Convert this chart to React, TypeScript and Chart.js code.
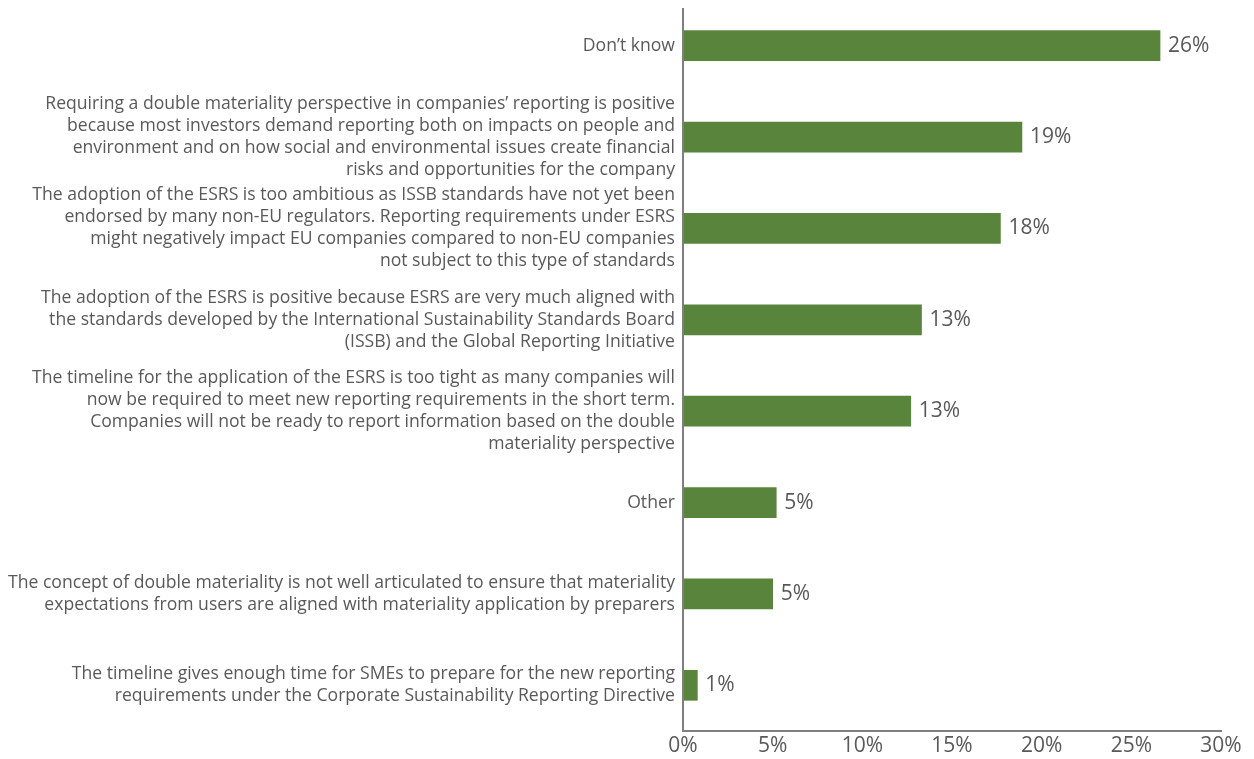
import React, { useEffect, useRef } from "react";
import { Chart, registerables } from "chart.js";

Chart.register(...registerables);

const categories: (string | string[])[] = [
  "Don’t know",
  [
    "Requiring a double materiality perspective in companies’ reporting is positive",
    "because most investors demand reporting both on impacts on people and",
    "environment and on how social and environmental issues create financial",
    "risks and opportunities for the company",
  ],
  [
    "The adoption of the ESRS is too ambitious as ISSB standards have not yet been",
    "endorsed by many non-EU regulators. Reporting requirements under ESRS",
    "might negatively impact EU companies compared to non-EU companies",
    "not subject to this type of standards",
  ],
  [
    "The adoption of the ESRS is positive because ESRS are very much aligned with",
    "the standards developed by the International Sustainability Standards Board",
    "(ISSB) and the Global Reporting Initiative",
  ],
  [
    "The timeline for the application of the ESRS is too tight as many companies will",
    "now be required to meet new reporting requirements in the short term.",
    "Companies will not be ready to report information based on the double",
    "materiality perspective",
  ],
  "Other",
  [
    "The concept of double materiality is not well articulated to ensure that materiality",
    "expectations from users are aligned with materiality application by preparers",
  ],
  [
    "The timeline gives enough time for SMEs to prepare for the new reporting",
    "requirements under the Corporate Sustainability Reporting Directive",
  ],
];

const values: number[] = [26.6, 18.9, 17.7, 13.3, 12.7, 5.2, 5.0, 0.8];
const valueLabels: string[] = ["26%", "19%", "18%", "13%", "13%", "5%", "5%", "1%"];

const FONT = "'Open Sans', Lato, sans-serif";
const TEXT = "#595959";
const BAR = "#58843C";
const AXIS = "#7F7F7F";

const valueLabelPlugin = {
  id: "valueLabels",
  afterDatasetsDraw(chart: any) {
    const ctx = chart.ctx;
    const meta = chart.getDatasetMeta(0);
    const area = chart.chartArea;
    ctx.save();
    ctx.strokeStyle = AXIS;
    ctx.lineWidth = 2;
    ctx.beginPath();
    ctx.moveTo(area.left, area.top + 8);
    ctx.lineTo(area.left, area.bottom);
    ctx.stroke();
    ctx.font = `21px ${FONT}`;
    ctx.fillStyle = TEXT;
    ctx.textAlign = "left";
    ctx.textBaseline = "middle";
    meta.data.forEach((el: any, i: number) => {
      ctx.fillText(valueLabels[i], el.x + 8, el.y);
    });
    ctx.restore();
  },
};

export default function App() {
  const ref = useRef<HTMLCanvasElement | null>(null);
  useEffect(() => {
    document.body.style.margin = "0";
    if (!ref.current) return;
    const chart = new Chart(ref.current, {
      type: "bar",
      data: {
        labels: categories,
        datasets: [
          {
            data: values,
            backgroundColor: BAR,
            barThickness: 30,
          },
        ],
      },
      options: {
        indexAxis: "y",
        animation: false,
        responsive: false,
        maintainAspectRatio: false,
        layout: { padding: { top: 0, right: 33, bottom: 0, left: 0 } },
        plugins: {
          legend: { display: false },
          tooltip: { enabled: false },
        },
        scales: {
          x: {
            min: 0,
            max: 30,
            ticks: {
              stepSize: 5,
              callback: (v: any) => `${v}%`,
              color: TEXT,
              font: { family: FONT, size: 21 },
              padding: 2,
              maxRotation: 0,
            },
            grid: { display: false, drawTicks: false },
            border: { display: true, color: AXIS, width: 2 },
            afterFit: (s: any) => {
              s.height = 759 - 731;
              s.paddingLeft = 0;
            },
          },
          y: {
            ticks: {
              color: TEXT,
              font: { family: FONT, size: 17.6, lineHeight: 22 / 17.6 },
              padding: 8,
              autoSkip: false,
            },
            grid: { display: false, drawTicks: false },
            border: { display: false },
            afterFit: (s: any) => {
              s.width = 683;
              s.paddingTop = 0;
              s.paddingBottom = 0;
            },
          },
        },
      },
      plugins: [valueLabelPlugin],
    });
    return () => chart.destroy();
  }, []);
  return (
    <div style={{ position: "absolute", left: 0, top: 0, width: 1254, height: 759 }}>
      <canvas ref={ref} width={1254} height={759} style={{ width: 1254, height: 759 }} />
    </div>
  );
}
